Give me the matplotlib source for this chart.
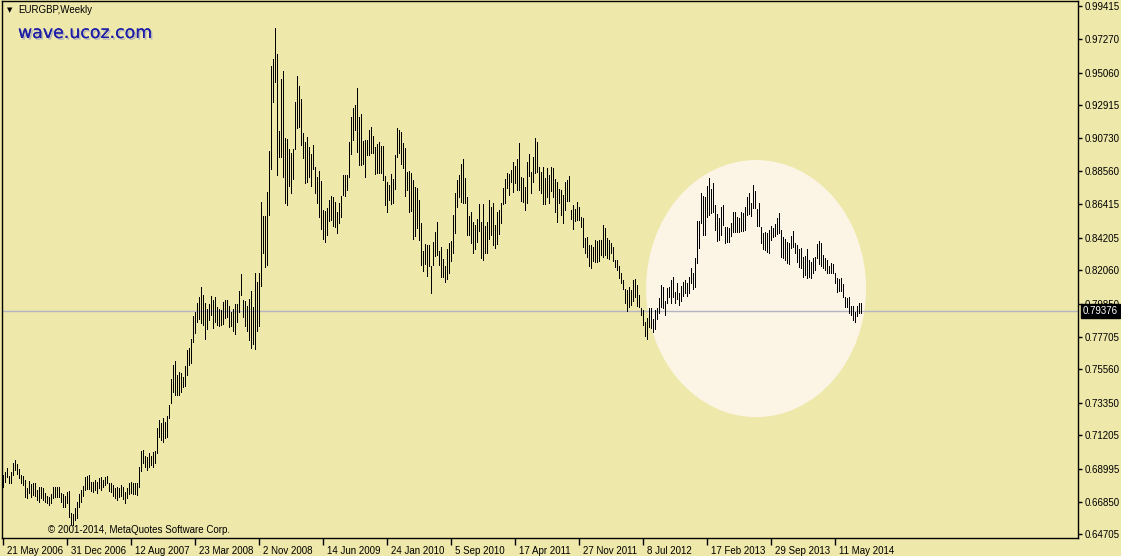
import matplotlib
matplotlib.use("Agg")
import matplotlib.pyplot as plt
import matplotlib.patheffects as pe
import matplotlib.transforms as mtransforms
from matplotlib.patches import Ellipse
import numpy as np

# weekly EURGBP bars, high / low (one value per week)
highs = [
    0.6861, 0.6883, 0.6905, 0.6854, 0.6883, 0.6942, 0.6959, 0.6931, 0.6898, 0.6861,
    0.6854, 0.6828, 0.6773, 0.6824, 0.6802, 0.6806, 0.6810, 0.6762, 0.6784, 0.6784,
    0.6773, 0.6745, 0.6723, 0.6714, 0.6736, 0.6784, 0.6780, 0.6780, 0.6784, 0.6745,
    0.6736, 0.6723, 0.6751, 0.6758, 0.6609, 0.6605, 0.6642, 0.6686, 0.6736, 0.6762,
    0.6789, 0.6845, 0.6854, 0.6859, 0.6817, 0.6817, 0.6828, 0.6817, 0.6839, 0.6845,
    0.6828, 0.6850, 0.6854, 0.6806, 0.6806, 0.6795, 0.6773, 0.6784, 0.6773, 0.6795,
    0.6780, 0.6751, 0.6773, 0.6806, 0.6817, 0.6810, 0.6810, 0.6806, 0.6911, 0.7021,
    0.7025, 0.6986, 0.6977, 0.7003, 0.6986, 0.7014, 0.7018, 0.7167, 0.7222, 0.7200,
    0.7233, 0.7211, 0.7248, 0.7321, 0.7489, 0.7584, 0.7612, 0.7518, 0.7540, 0.7534,
    0.7507, 0.7577, 0.7682, 0.7693, 0.7753, 0.7906, 0.7934, 0.7989, 0.8033, 0.8099,
    0.8044, 0.7989, 0.7950, 0.7985, 0.8037, 0.8011, 0.8028, 0.7967, 0.7951, 0.7946,
    0.7999, 0.8012, 0.8012, 0.7973, 0.7929, 0.7951, 0.7986, 0.7986, 0.8071, 0.8183,
    0.8012, 0.8001, 0.7973, 0.8019, 0.8067, 0.7964, 0.8187, 0.8126, 0.8187, 0.8658,
    0.8564, 0.8564, 0.8722, 0.8991, 0.9549, 0.9593, 0.9799, 0.9628, 0.9124, 0.9464,
    0.9519, 0.9078, 0.9070, 0.9004, 0.8976, 0.9004, 0.9315, 0.9484, 0.9418, 0.9333,
    0.9107, 0.9052, 0.9081, 0.9015, 0.8971, 0.9030, 0.8888, 0.8822, 0.8859, 0.8792,
    0.8603, 0.8599, 0.8614, 0.8669, 0.8695, 0.8691, 0.8658, 0.8586, 0.8651, 0.8695,
    0.8833, 0.8833, 0.8833, 0.9052, 0.9216, 0.9271, 0.9293, 0.9402, 0.9216, 0.9234,
    0.9059, 0.9063, 0.9063, 0.9129, 0.9146, 0.9089, 0.9019, 0.9037, 0.9050, 0.9024,
    0.9024, 0.8826, 0.8789, 0.8767, 0.8840, 0.8805, 0.8964, 0.9140, 0.9129, 0.9118,
    0.9041, 0.9008, 0.8855, 0.8861, 0.8848, 0.8800, 0.8752, 0.8745, 0.8669, 0.8515,
    0.8336, 0.8380, 0.8373, 0.8373, 0.8231, 0.8391, 0.8459, 0.8524, 0.8334, 0.8362,
    0.8281, 0.8235, 0.8345, 0.8384, 0.8399, 0.8570, 0.8713, 0.8800, 0.8833, 0.8905,
    0.8936, 0.8811, 0.8691, 0.8564, 0.8590, 0.8526, 0.8504, 0.8542, 0.8642, 0.8524,
    0.8642, 0.8494, 0.8526, 0.8669, 0.8621, 0.8651, 0.8504, 0.8592, 0.8603, 0.8651,
    0.8745, 0.8805, 0.8844, 0.8840, 0.8866, 0.8921, 0.8892, 0.8936, 0.9041, 0.8817,
    0.8811, 0.8756, 0.8920, 0.8971, 0.8855, 0.8953, 0.9074, 0.9052, 0.8888, 0.8855,
    0.8883, 0.8811, 0.8877, 0.8833, 0.8888, 0.8877, 0.8804, 0.8789, 0.8739, 0.8734,
    0.8701, 0.8789, 0.8800, 0.8826, 0.8603, 0.8636, 0.8607, 0.8658, 0.8620, 0.8555,
    0.8548, 0.8417, 0.8423, 0.8373, 0.8373, 0.8362, 0.8406, 0.8401, 0.8406, 0.8406,
    0.8504, 0.8482, 0.8417, 0.8406, 0.8384, 0.8358, 0.8274, 0.8274, 0.8231, 0.8191,
    0.8143, 0.8082, 0.8077, 0.8099, 0.8077, 0.8139, 0.8147, 0.8110, 0.8044, 0.7957,
    0.7946, 0.7869, 0.7891, 0.7957, 0.7957, 0.7885, 0.7946, 0.7957, 0.8022, 0.8110,
    0.8095, 0.8007, 0.8088, 0.8099, 0.8143, 0.8165, 0.8066, 0.8121, 0.8060, 0.8104,
    0.8132, 0.8139, 0.8125, 0.8165, 0.8219, 0.8187, 0.8285, 0.8533, 0.8533, 0.8712,
    0.8695, 0.8686, 0.8760, 0.8811, 0.8739, 0.8782, 0.8636, 0.8576, 0.8548, 0.8625,
    0.8636, 0.8493, 0.8493, 0.8482, 0.8515, 0.8592, 0.8592, 0.8555, 0.8548, 0.8592,
    0.8581, 0.8620, 0.8686, 0.8712, 0.8651, 0.8767, 0.8728, 0.8607, 0.8651, 0.8493,
    0.8454, 0.8460, 0.8449, 0.8471, 0.8498, 0.8482, 0.8511, 0.8548, 0.8585, 0.8471,
    0.8423, 0.8410, 0.8395, 0.8384, 0.8432, 0.8467, 0.8388, 0.8373, 0.8344, 0.8351,
    0.8296, 0.8301, 0.8344, 0.8274, 0.8263, 0.8285, 0.8296, 0.8379, 0.8401, 0.8388,
    0.8307, 0.8285, 0.8274, 0.8235, 0.8252, 0.8248, 0.8187, 0.8154, 0.8147, 0.8154,
    0.8117, 0.8029, 0.8022, 0.8029, 0.7972, 0.7972, 0.7935, 0.7972, 0.7990, 0.7990,
]
lows = [
    0.6784, 0.6817, 0.6845, 0.6810, 0.6806, 0.6861, 0.6894, 0.6867, 0.6839, 0.6806,
    0.6795, 0.6714, 0.6707, 0.6745, 0.6718, 0.6729, 0.6723, 0.6697, 0.6686, 0.6707,
    0.6697, 0.6686, 0.6679, 0.6664, 0.6679, 0.6707, 0.6714, 0.6714, 0.6714, 0.6686,
    0.6653, 0.6648, 0.6675, 0.6587, 0.6539, 0.6532, 0.6565, 0.6576, 0.6648, 0.6686,
    0.6723, 0.6762, 0.6767, 0.6767, 0.6758, 0.6751, 0.6762, 0.6745, 0.6773, 0.6762,
    0.6784, 0.6795, 0.6806, 0.6758, 0.6751, 0.6723, 0.6707, 0.6697, 0.6714, 0.6723,
    0.6701, 0.6675, 0.6707, 0.6736, 0.6740, 0.6736, 0.6736, 0.6729, 0.6780, 0.6889,
    0.6937, 0.6911, 0.6894, 0.6916, 0.6926, 0.6916, 0.6937, 0.7003, 0.7113, 0.7091,
    0.7080, 0.7102, 0.7108, 0.7233, 0.7332, 0.7409, 0.7387, 0.7387, 0.7387, 0.7409,
    0.7442, 0.7446, 0.7518, 0.7584, 0.7595, 0.7737, 0.7792, 0.7869, 0.7884, 0.7858,
    0.7847, 0.7753, 0.7818, 0.7880, 0.7912, 0.7825, 0.7869, 0.7847, 0.7837, 0.7848,
    0.7854, 0.7891, 0.7896, 0.7830, 0.7837, 0.7804, 0.7784, 0.7863, 0.7929, 0.8045,
    0.7902, 0.7841, 0.7804, 0.7745, 0.7694, 0.7723, 0.7688, 0.7804, 0.7837, 0.8100,
    0.8323, 0.8227, 0.8240, 0.8568, 0.8875, 0.9315, 0.9446, 0.8831, 0.8954, 0.8954,
    0.8822, 0.8651, 0.8634, 0.8761, 0.8717, 0.8805, 0.9002, 0.9140, 0.9146, 0.9030,
    0.8943, 0.8778, 0.8789, 0.8818, 0.8761, 0.8870, 0.8713, 0.8647, 0.8559, 0.8476,
    0.8415, 0.8389, 0.8439, 0.8533, 0.8538, 0.8498, 0.8489, 0.8450, 0.8516, 0.8559,
    0.8702, 0.8695, 0.8735, 0.8822, 0.8971, 0.9063, 0.9129, 0.8986, 0.8899, 0.8899,
    0.8905, 0.8822, 0.8964, 0.8964, 0.8975, 0.8980, 0.8840, 0.8844, 0.8844, 0.8844,
    0.8800, 0.8636, 0.8592, 0.8669, 0.8642, 0.8651, 0.8739, 0.8953, 0.8980, 0.8905,
    0.8877, 0.8695, 0.8734, 0.8592, 0.8599, 0.8415, 0.8432, 0.8483, 0.8406, 0.8242,
    0.8204, 0.8248, 0.8169, 0.8231, 0.8060, 0.8242, 0.8301, 0.8305, 0.8242, 0.8165,
    0.8165, 0.8132, 0.8150, 0.8187, 0.8264, 0.8323, 0.8450, 0.8621, 0.8691, 0.8658,
    0.8647, 0.8647, 0.8439, 0.8439, 0.8384, 0.8323, 0.8345, 0.8395, 0.8467, 0.8285,
    0.8275, 0.8323, 0.8323, 0.8415, 0.8439, 0.8373, 0.8351, 0.8377, 0.8445, 0.8515,
    0.8642, 0.8647, 0.8745, 0.8702, 0.8789, 0.8723, 0.8778, 0.8734, 0.8734, 0.8664,
    0.8658, 0.8603, 0.8647, 0.8826, 0.8712, 0.8789, 0.8844, 0.8855, 0.8734, 0.8712,
    0.8642, 0.8642, 0.8690, 0.8647, 0.8730, 0.8690, 0.8592, 0.8526, 0.8647, 0.8570,
    0.8520, 0.8603, 0.8664, 0.8664, 0.8542, 0.8476, 0.8533, 0.8537, 0.8537, 0.8493,
    0.8362, 0.8323, 0.8292, 0.8231, 0.8220, 0.8270, 0.8263, 0.8263, 0.8268, 0.8307,
    0.8292, 0.8307, 0.8285, 0.8279, 0.8318, 0.8270, 0.8226, 0.8209, 0.8154, 0.8121,
    0.8082, 0.7990, 0.7941, 0.7968, 0.7979, 0.8007, 0.8033, 0.7972, 0.7968, 0.7913,
    0.7847, 0.7771, 0.7753, 0.7836, 0.7825, 0.7803, 0.7819, 0.7885, 0.7928, 0.7968,
    0.7957, 0.7913, 0.7994, 0.8029, 0.7994, 0.8033, 0.7990, 0.8016, 0.7979, 0.8001,
    0.8038, 0.8055, 0.8038, 0.8055, 0.8121, 0.8082, 0.8099, 0.8252, 0.8351, 0.8520,
    0.8438, 0.8438, 0.8559, 0.8570, 0.8581, 0.8592, 0.8471, 0.8401, 0.8406, 0.8438,
    0.8504, 0.8388, 0.8395, 0.8395, 0.8432, 0.8460, 0.8460, 0.8460, 0.8460, 0.8467,
    0.8467, 0.8471, 0.8570, 0.8576, 0.8563, 0.8614, 0.8614, 0.8498, 0.8498, 0.8384,
    0.8344, 0.8340, 0.8329, 0.8322, 0.8406, 0.8428, 0.8432, 0.8445, 0.8449, 0.8292,
    0.8285, 0.8274, 0.8252, 0.8248, 0.8351, 0.8357, 0.8322, 0.8263, 0.8226, 0.8219,
    0.8165, 0.8176, 0.8154, 0.8165, 0.8154, 0.8187, 0.8209, 0.8285, 0.8248, 0.8235,
    0.8219, 0.8209, 0.8187, 0.8187, 0.8191, 0.8191, 0.8121, 0.8066, 0.8073, 0.8073,
    0.8029, 0.7968, 0.7963, 0.7924, 0.7913, 0.7880, 0.7869, 0.7906, 0.7924, 0.7924,
]
last_price = 0.79376

price_ticks = [0.99415, 0.97270, 0.95060, 0.92915, 0.90730, 0.88560, 0.86415,
               0.84205, 0.82060, 0.79850, 0.77705, 0.75560, 0.73350, 0.71205,
               0.68995, 0.66850, 0.64705]
date_labels = ["21 May 2006", "31 Dec 2006", "12 Aug 2007", "23 Mar 2008",
               "2 Nov 2008", "14 Jun 2009", "24 Jan 2010", "5 Sep 2010",
               "17 Apr 2011", "27 Nov 2011", "8 Jul 2012", "17 Feb 2013",
               "29 Sep 2013", "11 May 2014"]
weeks_per_label = 32

BG = "#EEE8AA"


def main():
    plt.rcParams["font.family"] = ["Liberation Sans", "DejaVu Sans"]
    fig = plt.figure(figsize=(11.21, 5.56), dpi=100, facecolor=BG)
    W, H = 1121, 556
    ax = fig.add_axes([2 / W, 1 - 537.7 / H, 1076 / W, 536.7 / H])
    ax.set_facecolor(BG)

    n = len(highs)
    x = np.arange(n)
    ax.set_xlim(-0.65, 537.35)
    ax.set_ylim(0.64481, 0.99764)

    # highlighted area behind the recent bars
    ax.add_patch(Ellipse((376.4, 0.8086), 110, 0.169, facecolor="#FCF5E5",
                         edgecolor="none", zorder=0))

    ax.axhline(last_price, color="#B4B4C4", lw=1, zorder=1)
    ax.vlines(x, lows, highs, color="black", lw=0.72, antialiased=False,
              zorder=2)

    # axes look
    for s in ax.spines.values():
        s.set_color("black")
        s.set_linewidth(1)
    ax.yaxis.tick_right()
    ax.set_yticks(price_ticks)
    ax.set_yticklabels([f"{p:.5f}" for p in price_ticks])
    ax.tick_params(axis="y", direction="out", length=3, width=1, pad=2,
                   labelsize=7, colors="black")
    xt = np.arange(len(date_labels)) * weeks_per_label
    ax.set_xticks(xt)
    ax.set_xticklabels(date_labels, ha="left")
    ax.tick_params(axis="x", direction="out", length=5, width=1, pad=1,
                   labelsize=7, colors="black")
    off = mtransforms.ScaledTranslation(3 / 72, 0, fig.dpi_scale_trans)
    for lab in ax.get_xticklabels():
        lab.set_transform(lab.get_transform() + off)

    # last price box on the price scale
    ax.annotate(f"{last_price:.5f}", xy=(1.0, last_price),
                xycoords=("axes fraction", "data"), xytext=(3.5, 0),
                textcoords="offset points", va="center", ha="left",
                fontsize=7, color="white", zorder=5,
                bbox=dict(boxstyle="square,pad=0.2", fc="black", ec="black"))

    # header texts
    fig.text(7 / W, 1 - 10 / H, "\u25BC", fontsize=5, va="center", ha="left",
             family="DejaVu Sans")
    fig.text(18 / W, 1 - 10 / H, "EURGBP,Weekly", fontsize=7, va="center",
             ha="left")
    fig.text(18 / W, 1 - 33 / H, "wave.ucoz.com", fontsize=12.5, va="center",
             ha="left", color="#1C1CA8", family="DejaVu Sans",
             path_effects=[pe.withSimplePatchShadow(offset=(1.2, -1.2),
                                                    shadow_rgbFace="#A8A8B8",
                                                    alpha=0.8),
                           pe.Normal()])
    fig.text(48 / W, 1 - 530 / H, "\u00a9 2001-2014, MetaQuotes Software Corp.",
             fontsize=7, va="center", ha="left")

    fig.savefig("out.png", dpi=100, facecolor=BG)


if __name__ == "__main__":
    main()
